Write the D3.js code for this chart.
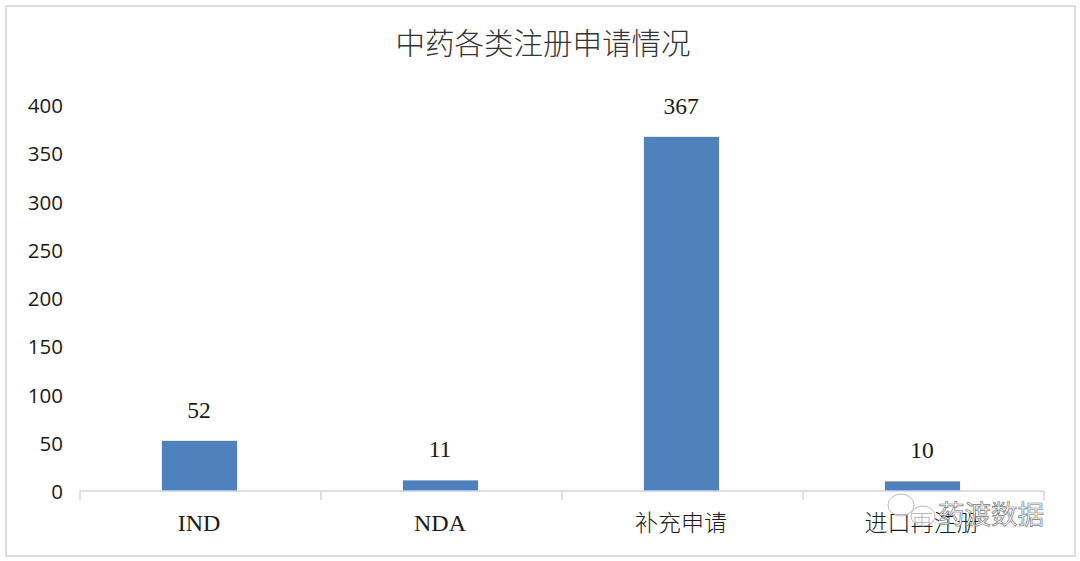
<!DOCTYPE html>
<html>
<head>
<meta charset="utf-8">
<script src="https://cdn.jsdelivr.net/npm/d3@7"></script>
<style>
  html, body { margin: 0; padding: 0; background: #fff; }
  svg { display: block; }
</style>
</head>
<body>
<div id="chart"></div>
<script>
const categories = ['IND', 'NDA', '补充申请', '进口再注册'];
const counts = [52, 11, 367, 10];
const yTicks = [0, 50, 100, 150, 200, 250, 300, 350, 400];
const chartTitle = '中药各类注册申请情况';
const watermark = '药渡数据';

const width = 1080, height = 561;
const margin = { top: 105, right: 36, bottom: 70, left: 80 };
const serif = '"Liberation Serif", "Noto Sans CJK SC", serif';
const cjk = '"Noto Sans CJK SC", serif';

const svg = d3.select('#chart').append('svg')
    .attr('width', width)
    .attr('height', height);

// outer frame
svg.append('rect')
    .attr('x', 6).attr('y', 6)
    .attr('width', 1069).attr('height', 550)
    .attr('fill', '#fff')
    .attr('stroke', '#dcdcdc')
    .attr('stroke-width', 2);

const x = d3.scaleBand()
    .domain(categories)
    .range([margin.left, width - margin.right])
    .padding(0);

const y = d3.scaleLinear()
    .domain([0, 400])
    .range([height - margin.bottom, margin.top]);

const barWidth = x.bandwidth() * 0.312;
// the marks sit a little left of the band centres in the original
const center = d => x(d) + x.bandwidth() / 2 - 1.5;

svg.append('text')
    .attr('x', 543).attr('y', 54)
    .attr('text-anchor', 'middle')
    .attr('font-family', cjk)
    .attr('font-size', 29.5)
    .attr('font-weight', 300)
    .attr('fill', '#333')
    .text(chartTitle);

// y axis: labels only, no line
const yAxis = svg.append('g')
    .attr('transform', `translate(${margin.left},1)`)
    .call(d3.axisLeft(y).tickValues(yTicks).tickSize(0).tickPadding(17));
yAxis.select('.domain').remove();
yAxis.selectAll('text')
    .attr('font-family', '"Open Sans", "Noto Sans", sans-serif')
    .attr('font-size', 20.5)
    .attr('fill', '#1a1a1a');

svg.selectAll('rect.bar')
    .data(counts)
    .join('rect')
    .attr('class', 'bar')
    .attr('x', (d, i) => center(categories[i]) - barWidth / 2 + 0.5)
    .attr('y', d => y(d))
    .attr('width', barWidth)
    .attr('height', d => y(0) - y(d))
    .attr('fill', '#4f81bd');

svg.selectAll('text.value')
    .data(counts)
    .join('text')
    .attr('class', 'value')
    .attr('x', (d, i) => center(categories[i]))
    .attr('y', d => y(d) - 23)
    .attr('text-anchor', 'middle')
    .attr('font-family', serif)
    .attr('font-size', 23.5)
    .attr('fill', '#1a1a1a')
    .text(d => d);

// x axis with ticks at the band edges
const xEdges = categories.map(c => x(c)).concat(x.range()[1]);
const axisG = svg.append('g').attr('transform', `translate(0,${y(0)})`);
axisG.append('line')
    .attr('x1', x.range()[0]).attr('x2', x.range()[1])
    .attr('stroke', '#d4d4d4').attr('stroke-width', 1.5);
axisG.selectAll('line.tick')
    .data(xEdges)
    .join('line')
    .attr('class', 'tick')
    .attr('x1', d => d).attr('x2', d => d)
    .attr('y1', 0).attr('y2', 9)
    .attr('stroke', '#d4d4d4').attr('stroke-width', 1.5);
axisG.selectAll('text')
    .data(categories)
    .join('text')
    .attr('x', d => center(d))
    .attr('y', 40)
    .attr('text-anchor', 'middle')
    .attr('font-family', serif)
    .attr('font-size', d => /^[A-Z]+$/.test(d) ? 24 : 23)
    .attr('font-weight', d => /^[A-Z]+$/.test(d) ? 400 : 300)
    .attr('fill', '#1a1a1a')
    .text(d => d);

// wechat style watermark over the corner
const mark = svg.append('g');
[[901, 505, 13, 11], [923, 516, 12, 10]].forEach(b => {
    mark.append('ellipse')
        .attr('cx', b[0]).attr('cy', b[1])
        .attr('rx', b[2]).attr('ry', b[3])
        .attr('fill', '#fff')
        .attr('fill-opacity', 0.7)
        .attr('stroke', '#aaa')
        .attr('stroke-width', 0.8);
});
mark.append('text')
    .attr('x', 938).attr('y', 524)
    .attr('font-family', cjk)
    .attr('font-size', 26.5)
    .attr('fill', '#fff')
    .attr('stroke', '#777')
    .attr('stroke-width', 0.7)
    .text(watermark);
</script>
</body>
</html>
